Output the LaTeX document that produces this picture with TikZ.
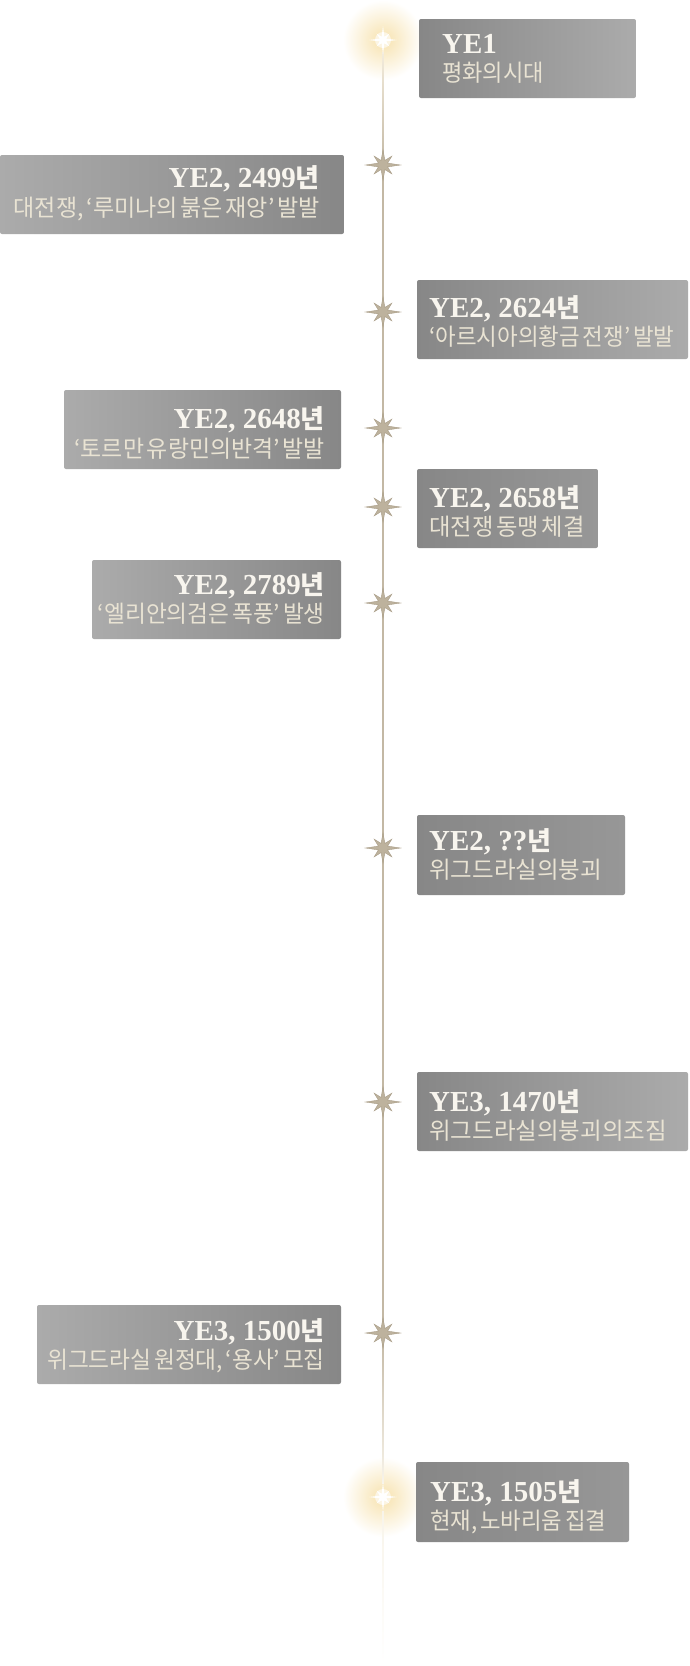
\documentclass[tikz,border=0pt]{standalone}
\usepackage{fontspec}
\usepackage{graphicx}
\setmainfont{Liberation Serif}
\newfontfamily\cjk[WordSpace=0.55]{Noto Sans CJK KR}
\usetikzlibrary{calc}
\definecolor{boxlight}{HTML}{ABABAB}
\definecolor{boxdark}{HTML}{878787}
\definecolor{boxmid}{HTML}{979797}
\definecolor{titlec}{HTML}{F8F5EE}
\definecolor{subc}{HTML}{E9E3D3}
\definecolor{starc}{HTML}{BDB29D}
\definecolor{stare}{HTML}{A89C86}
\definecolor{linec}{HTML}{C3B8A4}
\definecolor{linetop}{HTML}{F3ECDC}
\definecolor{linefade}{HTML}{F8F4EA}
\definecolor{glowc}{HTML}{F7E2AE}
\newcommand\kyear{{\cjk\fontsize{26}{26}\selectfont 년}}
\newcommand\ksq[2]{\scalebox{#1}[1]{#2}}
\tikzset{
  kstar/.pic={
    \fill[starc, draw=stare, line width=0.4pt] (0:17.5) -- (22.5:5) -- (45:12.5) -- (67.5:5) -- (90:15) -- (112.5:5) -- (135:12.5) -- (157.5:5) -- (180:17.5) -- (202.5:5) -- (225:12.5) -- (247.5:5) -- (270:15) -- (292.5:5) -- (315:12.5) -- (337.5:5) -- cycle;
  },
  kglowdisc/.pic={
    \shade[inner color=glowc, outer color=white] (0,0) circle (40);
  },
  kglowstar/.pic={
    \fill[white, opacity=0.6] (0,0) circle (8);
    \fill[white] (0:14) -- (22.5:3.5) -- (45:9) -- (67.5:3.5) -- (90:14) -- (112.5:3.5) -- (135:9) -- (157.5:3.5) -- (180:14) -- (202.5:3.5) -- (225:9) -- (247.5:3.5) -- (270:14) -- (292.5:3.5) -- (315:9) -- (337.5:3.5) -- cycle;
  }
}
\begin{document}
\begin{tikzpicture}[x=1pt,y=-1pt,
  box/.style={rectangle, rounded corners=2pt, inner sep=0pt, outer sep=0pt, anchor=north west},
  lbox/.style={box, left color=boxlight, right color=boxdark},
  rbox/.style={box, left color=boxdark, right color=boxlight},
  mbox/.style={box, left color=boxdark, right color=boxmid},
  tA/.style={text=titlec, inner sep=0pt, font=\fontsize{29}{29}\selectfont\bfseries},
  tB/.style={text=subc, inner sep=0pt, font=\cjk\fontsize{23.5}{23.5}\selectfont},
  tline/.style={draw=linec, line width=1.8pt}
]
\fill[white] (0,0) rectangle (689,1666);
\useasboundingbox (0,0) rectangle (689,1666);

% timeline points
\coordinate (s1) at (383,40);
\coordinate (s2) at (383,165);
\coordinate (s3) at (383,312);
\coordinate (s4) at (383,428);
\coordinate (s5) at (383,507);
\coordinate (s6) at (383,603);
\coordinate (s7) at (383,848);
\coordinate (s8) at (383,1102);
\coordinate (s9) at (383,1333);
\coordinate (s10) at (383,1497);
\coordinate (send) at (383,1664);

% glows
\pic at (s1) {kglowdisc};
\pic at (s10) {kglowdisc};

% line
\shade[top color=linetop, bottom color=linec] ($(s1)+(-0.9,12)$) rectangle ($(s2)+(0.9,0)$);
\draw[tline] (s2) -- (s3);
\draw[tline] (s3) -- (s4);
\draw[tline] (s4) -- (s5);
\draw[tline] (s5) -- (s6);
\draw[tline] (s6) -- (s7);
\draw[tline] (s7) -- (s8);
\draw[tline] (s8) -- (s9);
\shade[top color=linec, bottom color=linefade] ($(s9)+(-0.9,0)$) rectangle ($(s10)+(0.9,-14)$);
\shade[top color=linefade, bottom color=white] ($(s10)+(-0.9,14)$) rectangle ($(send)+(0.9,0)$);

% glow star centres
\pic at (s1) {kglowstar};
\pic at (s10) {kglowstar};

% stars
\foreach \s in {s2,s3,s4,s5,s6,s7,s8,s9} { \pic at (\s) {kstar}; }

% boxes
\node[rbox, minimum width=217pt, minimum height=79pt] (b1) at (419,19) {};
\node[lbox, minimum width=344pt, minimum height=79pt] (b2) at (0,155) {};
\node[rbox, minimum width=271pt, minimum height=79pt] (b3) at (417,280) {};
\node[lbox, minimum width=277pt, minimum height=79pt] (b4) at (64,390) {};
\node[mbox, minimum width=181pt, minimum height=79pt] (b5) at (417,469) {};
\node[lbox, minimum width=249pt, minimum height=79pt] (b6) at (92,560) {};
\node[mbox, minimum width=208pt, minimum height=80pt] (b7) at (417,815) {};
\node[rbox, minimum width=271pt, minimum height=79pt] (b8) at (417,1072) {};
\node[lbox, minimum width=304pt, minimum height=79pt] (b9) at (37,1305) {};
\node[mbox, minimum width=213pt, minimum height=80pt] (b10) at (416,1462) {};

% texts
\node[tA, anchor=base west] (y1) at (442,53) {YE1};
\node[tB, anchor=base west] (d1) at (442,81) {\ksq{0.94}{평화의시대}};

\node[tA, anchor=base east] (y2) at (320,187) {YE2, 2499\kyear};
\node[tB, anchor=base east] (d2) at (320,216) {\ksq{0.98}{대전쟁, ‘루미나의 붉은 재앙’ 발발}};

\node[tA, anchor=base west] (y3) at (429,317) {YE2, 2624\kyear};
\node[tB, anchor=base west] (d3) at (429,345) {\ksq{0.955}{‘아르시아의황금 전쟁’ 발발}};

\node[tA, anchor=base east] (y4) at (325,428) {YE2, 2648\kyear};
\node[tB, anchor=base east] (d4) at (325,457) {\ksq{0.975}{‘토르만 유랑민의반격’ 발발}};

\node[tA, anchor=base west] (y5) at (429,507) {YE2, 2658\kyear};
\node[tB, anchor=base west] (d5) at (429,535) {\ksq{0.99}{대전쟁 동맹 체결}};

\node[tA, anchor=base east] (y6) at (325,594) {YE2, 2789\kyear};
\node[tB, anchor=base east] (d6) at (325,622) {\ksq{0.965}{‘엘리안의검은 폭풍’ 발생}};

\node[tA, anchor=base west] (y7) at (429,850) {YE2, ??\kyear};
\node[tB, anchor=base west] (d7) at (429,878) {위그드라실의붕괴};

\node[tA, anchor=base west] (y8) at (429,1111) {YE3, 1470\kyear};
\node[tB, anchor=base west] (d8) at (429,1139) {위그드라실의붕괴의조짐};

\node[tA, anchor=base east] (y9) at (325,1340) {YE3, 1500\kyear};
\node[tB, anchor=base east] (d9) at (325,1368) {\ksq{0.965}{위그드라실 원정대, ‘용사’ 모집}};

\node[tA, anchor=base west] (y10) at (430,1501) {YE3, 1505\kyear};
\node[tB, anchor=base west] (d10) at (430,1529) {\ksq{0.95}{현재, 노바리움 집결}};
\end{tikzpicture}
\end{document}
